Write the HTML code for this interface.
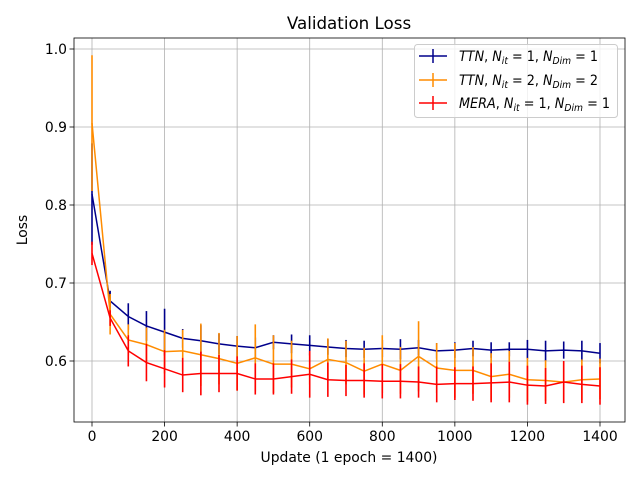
<!DOCTYPE html>
<html><head><meta charset="utf-8"><style>
body{margin:0;background:#fff;}
svg text{font-family:"DejaVu Sans","Liberation Sans",sans-serif;}
</style></head><body>
<svg id="chart" width="640" height="480" xmlns="http://www.w3.org/2000/svg">
<rect width="640" height="480" fill="#fff"/>
<g id="grid"></g><g id="series"></g><g id="axes"></g>
</svg>
<script>
const steps = [0,50,100,150,200,250,300,350,400,450,500,550,600,650,700,750,800,850,900,950,1000,1050,1100,1150,1200,1250,1300,1350,1400];
const ttn1 = [0.814,0.677,0.657,0.645,0.637,0.629,0.626,0.622,0.619,0.617,0.624,0.622,0.620,0.618,0.616,0.615,0.616,0.615,0.617,0.613,0.614,0.616,0.614,0.615,0.615,0.613,0.614,0.613,0.610];
const ttn1Err = [0.065,0.013,0.017,0.019,0.03,0.012,0.02,0.013,0.013,0.013,0.009,0.012,0.013,0.01,0.011,0.011,0.011,0.013,0.01,0.01,0.01,0.01,0.01,0.009,0.012,0.013,0.011,0.013,0.013];
const ttn2 = [0.905,0.660,0.627,0.621,0.612,0.613,0.608,0.603,0.597,0.604,0.596,0.596,0.590,0.602,0.598,0.587,0.596,0.588,0.606,0.591,0.588,0.588,0.580,0.583,0.576,0.575,0.573,0.576,0.577];
const ttn2Err = [0.087,0.026,0.02,0.022,0.028,0.027,0.04,0.033,0.035,0.043,0.037,0.03,0.02,0.027,0.028,0.03,0.037,0.03,0.045,0.032,0.035,0.03,0.03,0.03,0.028,0.026,0.026,0.026,0.026];
const mera = [0.738,0.655,0.613,0.598,0.590,0.582,0.584,0.584,0.584,0.577,0.577,0.580,0.583,0.576,0.575,0.575,0.574,0.574,0.573,0.570,0.571,0.571,0.572,0.573,0.569,0.568,0.573,0.570,0.568];
const meraErr = [0.015,0.01,0.02,0.024,0.024,0.022,0.028,0.024,0.022,0.02,0.02,0.022,0.03,0.022,0.02,0.022,0.022,0.022,0.02,0.023,0.021,0.022,0.025,0.026,0.025,0.023,0.027,0.024,0.024];
const xTicks = [0,200,400,600,800,1000,1200,1400];
const yTicks = [0.6,0.7,0.8,0.9,1.0];

const NS='http://www.w3.org/2000/svg';
const L=74,R=625,T=38,B=422;
const X=v=>92+(v/1400)*508;
const Y=v=>49+(1.0-v)*780;
function mk(tag,attrs,parent){const e=document.createElementNS(NS,tag);for(const k in attrs)e.setAttribute(k,attrs[k]);parent.appendChild(e);return e;}
const grid=document.getElementById('grid'),ser=document.getElementById('series'),ax=document.getElementById('axes');
xTicks.forEach(t=>{
  const g=mk('line',{x1:X(t),x2:X(t),y1:T,y2:B,stroke:'#b0b0b0','stroke-width':0.8},grid);
  
  
  mk('line',{x1:X(t),x2:X(t),y1:B,y2:B+4.5,stroke:'#000','stroke-width':0.8},ax);
  const tx=mk('text',{x:X(t),y:B+19,'font-size':13.9,'text-anchor':'middle'},ax);tx.textContent=t;
  
  
});
yTicks.forEach(t=>{
  const g=mk('line',{x1:L,x2:R,y1:Y(t),y2:Y(t),stroke:'#b0b0b0','stroke-width':0.8},grid);
  
  
  mk('line',{x1:L-4.5,x2:L,y1:Y(t),y2:Y(t),stroke:'#000','stroke-width':0.8},ax);
  const tx=mk('text',{x:L-7,y:Y(t)+5,'font-size':13.9,'text-anchor':'end'},ax);tx.textContent=t.toFixed(1);
  
  
});
function series(vals,errs,color,name){
  const g=mk('g',{},ser);
  
  
  mk('polyline',{points:steps.map((s,i)=>X(s)+','+Y(vals[i])).join(' '),fill:'none',stroke:color,'stroke-width':1.5},g);
  steps.forEach((s,i)=>{
    const e=mk('line',{x1:X(s),x2:X(s),y1:Y(vals[i]-errs[i]),y2:Y(vals[i]+errs[i]),stroke:color,'stroke-width':1.6},g);
    
    
  });
}
series(ttn1,ttn1Err,'#00008b','series-ttn-1');
series(ttn2,ttn2Err,'#ff8c00','series-ttn-2');
series(mera,meraErr,'#ff0000','series-mera');
</script>
<svg width="640" height="480" style="position:absolute;left:0;top:0" xmlns="http://www.w3.org/2000/svg">
<rect x="74" y="38" width="551" height="384" fill="none" stroke="#000" stroke-width="0.8"/>
<text x="349" y="29" font-size="16.7" text-anchor="middle" style="font-family:'DejaVu Sans',sans-serif">Validation Loss</text>
<text x="349" y="462" font-size="13.9" text-anchor="middle" style="font-family:'DejaVu Sans',sans-serif">Update (1 epoch = 1400)</text>
<text x="27" y="230" font-size="13.9" text-anchor="middle" transform="rotate(-90 27 230)" style="font-family:'DejaVu Sans',sans-serif">Loss</text>
<g style="font-family:'DejaVu Sans',sans-serif" font-size="13.9">
<rect x="414.5" y="44.5" width="203" height="73" rx="3" fill="#fff" fill-opacity="0.8" stroke="#ccc"/>
<g><line x1="419" x2="447" y1="56" y2="56" stroke="#00008b" stroke-width="1.5"/><line x1="433" x2="433" y1="49" y2="63" stroke="#00008b" stroke-width="1.5"/>
<text x="459" y="61" textLength="139" lengthAdjust="spacingAndGlyphs"><tspan font-style="italic">TTN</tspan>, <tspan font-style="italic">N</tspan><tspan font-size="10" dy="3" font-style="italic">it</tspan><tspan dy="-3"> = 1, </tspan><tspan font-style="italic">N</tspan><tspan font-size="10" dy="3" font-style="italic">Dim</tspan><tspan dy="-3"> = 1</tspan></text></g>
<g><line x1="419" x2="447" y1="80" y2="80" stroke="#ff8c00" stroke-width="1.5"/><line x1="433" x2="433" y1="73" y2="87" stroke="#ff8c00" stroke-width="1.5"/>
<text x="459" y="85" textLength="139" lengthAdjust="spacingAndGlyphs"><tspan font-style="italic">TTN</tspan>, <tspan font-style="italic">N</tspan><tspan font-size="10" dy="3" font-style="italic">it</tspan><tspan dy="-3"> = 2, </tspan><tspan font-style="italic">N</tspan><tspan font-size="10" dy="3" font-style="italic">Dim</tspan><tspan dy="-3"> = 2</tspan></text></g>
<g><line x1="419" x2="447" y1="103" y2="103" stroke="#ff0000" stroke-width="1.5"/><line x1="433" x2="433" y1="96" y2="110" stroke="#ff0000" stroke-width="1.5"/>
<text x="459" y="108" textLength="151" lengthAdjust="spacingAndGlyphs"><tspan font-style="italic">MERA</tspan>, <tspan font-style="italic">N</tspan><tspan font-size="10" dy="3" font-style="italic">it</tspan><tspan dy="-3"> = 1, </tspan><tspan font-style="italic">N</tspan><tspan font-size="10" dy="3" font-style="italic">Dim</tspan><tspan dy="-3"> = 1</tspan></text></g>
</g>
</svg>
</body></html>
